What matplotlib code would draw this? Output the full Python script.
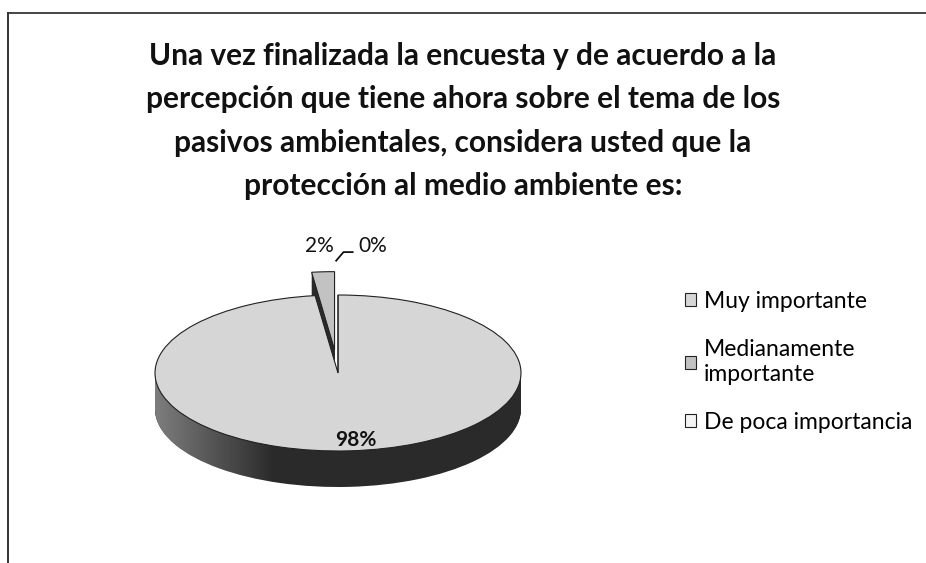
import numpy as np
import matplotlib
matplotlib.use("Agg")
import matplotlib.pyplot as plt
from matplotlib.lines import Line2D
from matplotlib.path import Path
from matplotlib.patches import PathPatch

# ── Data ──────────────────────────────────────────
categories = ["Muy importante", "Medianamente\nimportante", "De poca importancia"]
values = [98, 2, 0]
title = ("Una vez finalizada la encuesta y de acuerdo a la\n"
         "percepción que tiene ahora sobre el tema de los\n"
         "pasivos ambientales, considera usted que la\n"
         "protección al medio ambiente es:")

top_colors = ["#d6d6d6", "#c2c2c2", "#f4f4f4"]
side_color = "#2a2a2a"
explode = [0, 0.3, 0]

W, H = 926, 563
plt.rcParams["font.family"] = ["Lato", "DejaVu Sans"]

fig = plt.figure(figsize=(W / 100, H / 100), dpi=100)
fig.patch.set_facecolor("white")

# pie axes placed in pixel space; ellipse rx=183px, ry=78px, centre (338, 373)
cx, cy, rx, ry = 338, 373, 183, 78
x0, x1 = -1.06, 1.06
y_top_px, y_bot_px = 245, 500
left = (cx + x0 * rx) / W
width = (x1 - x0) * rx / W
bottom = 1 - y_bot_px / H
height = (y_bot_px - y_top_px) / H
ax = fig.add_axes([left, bottom, width, height])

depth = 36 / ry
for d in np.linspace(depth, 0.01, 45):
    ax.pie(values, colors=[side_color] * 3, explode=explode, startangle=90,
           counterclock=False, center=(0, -d), radius=1,
           wedgeprops=dict(linewidth=0))

# lighter shading on the left part of the side band
t = np.linspace(np.pi, 2 * np.pi, 100)
band = np.concatenate([
    np.column_stack([np.cos(t), np.sin(t)]),
    np.column_stack([np.cos(t[::-1]), np.sin(t[::-1]) - depth]),
])
clip = PathPatch(Path(np.vstack([band, band[:1]])), transform=ax.transData,
                 facecolor="none", edgecolor="none")
ax.add_patch(clip)
grad = np.zeros((2, 200, 4))
gx = np.linspace(-1.05, 1.05, 200)
a = np.clip((-0.35 - gx) / 0.65, 0, 1)
grad[..., :3] = 0.55
grad[..., 3] = a * 0.85
img = ax.imshow(grad, extent=(-1.05, 1.05, -1 - depth, 0), aspect="auto",
                zorder=1.5, interpolation="bilinear")
img.set_clip_path(clip)

wedges, _ = ax.pie(values, colors=top_colors, explode=explode, startangle=90,
                   counterclock=False, center=(0, 0), radius=1,
                   wedgeprops=dict(edgecolor="#222222", linewidth=0.8, zorder=2))
ax.set_aspect("auto")
ax.set_xlim(x0, x1)
ax.set_ylim(-(y_bot_px - cy) / ry, (cy - y_top_px) / ry)
ax.axis("off")

# data labels
ax.text(0.10, -0.86, f"{values[0]}%", ha="center", va="center",
        fontsize=15, fontweight="bold", color="#111111", zorder=5)
ax.text(-0.10, 1.63, f"{values[1]}%", ha="center", va="center",
        fontsize=15, color="#111111", clip_on=False)
ax.text(0.19, 1.63, f"{values[2]}%", ha="center", va="center",
        fontsize=15, color="#111111", clip_on=False)
ax.plot([0.08, 0.03, -0.01], [1.55, 1.55, 1.44], color="#111111", lw=1.3,
        clip_on=False)

# title
fig.text(463 / W, 1 - 121 / H, title, ha="center", va="center",
         fontsize=21.5, fontweight="bold", color="#111111", linespacing=1.66)

# legend
fig.legend(wedges, categories, loc="upper left",
           bbox_to_anchor=(664 / W, 1 - 270 / H), frameon=False,
           fontsize=16.5, handlelength=0.5, handleheight=0.5,
           handletextpad=0.35, labelspacing=1.2)

# frame lines
fig.add_artist(Line2D([8 / W, 1], [1 - 13 / H, 1 - 13 / H],
                      transform=fig.transFigure, color="#444444", lw=1.4))
fig.add_artist(Line2D([8 / W, 8 / W], [1 - 13 / H, 0],
                      transform=fig.transFigure, color="#333333", lw=1.4))

fig.savefig("out.png", dpi=100)
